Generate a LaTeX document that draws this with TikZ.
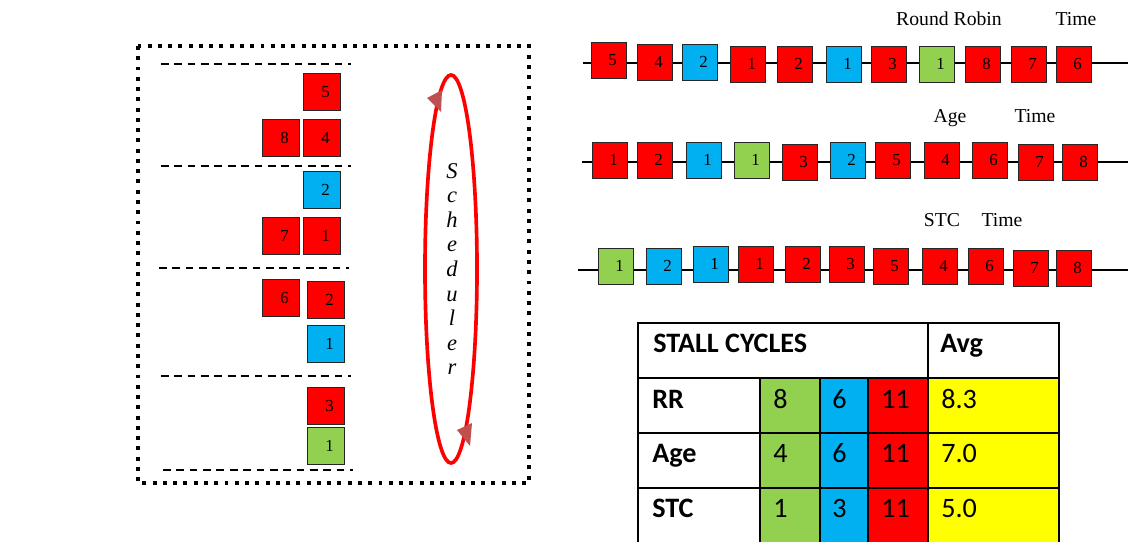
\documentclass[tikz,border=0pt]{standalone}
\usepackage{fontspec}
\setmainfont{Liberation Serif}
\newfontfamily\calibri{Carlito}
\usetikzlibrary{shapes.geometric}

\definecolor{taskred}{HTML}{FF0000}
\definecolor{taskblue}{HTML}{00B0F0}
\definecolor{taskgreen}{HTML}{92D050}
\definecolor{avgyellow}{HTML}{FFFF00}
\definecolor{tipred}{HTML}{C0504D}

\tikzset{
  task/.style={draw=black!85, line width=0.7pt, minimum width=0.86cm, minimum height=0.9cm,
    inner sep=0pt, font=\fontsize{12}{14}\selectfont, execute at begin node={\hspace*{5pt}}},
  qtask/.style={task, minimum width=0.93cm, minimum height=0.93cm},
  slot/.style={line width=1pt, dash pattern=on 5.5pt off 4pt},
  tline/.style={line width=1.1pt},
  tlabel/.style={anchor=base, inner sep=0pt, font=\fontsize{14}{16}\selectfont},
  grid/.style={line width=1.4pt},
  cell/.style={anchor=base west, inner sep=0pt, font=\calibri\fontsize{20}{24}\selectfont},
  cellhead/.style={cell, font=\calibri\bfseries\fontsize{20}{24}\selectfont},
}

\begin{document}
\begin{tikzpicture}[x=0.025cm, y=-0.025cm]
  \useasboundingbox (0,0) rectangle (1128,542);

  % Warp queues
  \draw[line width=2.8pt, dash pattern=on 2.8pt off 4.5pt] (138,46) rectangle (529,483);
  \foreach \y/\xa in {64/161,166/161,268/159,376/161,470/163}
    \draw[slot] (\xa,\y) -- ++(190,0);
  \foreach \x/\y/\n/\c [count=\i] in {322/92/5/taskred, 281/138/8/taskred, 322/138/4/taskred,
      322/190/2/taskblue, 281/236/7/taskred, 322/236/1/taskred, 281/298/6/taskred,
      326/300/2/taskred, 326/344/1/taskblue, 326/406/3/taskred, 326/446/1/taskgreen}
    \node[qtask, fill=\c] (q\i) at (\x,\y) {\n};

  % Scheduler ring
  \node[ellipse, draw=taskred, line width=2.6pt, inner sep=0pt,
    minimum width=1.3cm, minimum height=9.7cm] (sched) at (451,269) {};
  \fill[tipred] (427,98) -- (442,90) -- (441,112) -- cycle;
  \fill[tipred] (457,430) -- (472,423) -- (470,446) -- cycle;
  \foreach \l [count=\i] in {S,c,h,e,d,u,l,e,r}
    \node[anchor=base, inner sep=0pt, font=\fontsize{16}{18}\selectfont\itshape]
      (sch\i) at (452,{178+24.6*(\i-1)}) {\l};

  % Round robin order
  \coordinate (rrL) at (583,63);
  \coordinate (rrR) at (1128,63);
  \draw[tline] (rrL) -- (rrR);
  \foreach \x/\y/\n/\c [count=\i] in {609/60/5/taskred, 655/62/4/taskred, 700/62/2/taskblue,
      748/64/1/taskred, 795/64/2/taskred, 844/64/1/taskblue, 889/64/3/taskred,
      937/64/1/taskgreen, 983/64/8/taskred, 1029/64/7/taskred, 1074/64/6/taskred}
    \node[task, fill=\c] (rr\i) at (\x,\y) {\n};
  \node[tlabel] (rrname) at (949,25) {Round Robin};
  \node[tlabel] (rrtime) at (1076,25) {Time};

  % Age order
  \coordinate (ageL) at (582,162);
  \coordinate (ageR) at (1128,162);
  \draw[tline] (ageL) -- (ageR);
  \foreach \x/\y/\n/\c [count=\i] in {610/160/1/taskred, 655/160/2/taskred, 704/160/1/taskblue,
      752/160/1/taskgreen, 800/162/3/taskred, 848/160/2/taskblue, 893/160/5/taskred,
      942/160/4/taskred, 990/160/6/taskred, 1036/162/7/taskred, 1080/162/8/taskred}
    \node[task, fill=\c] (age\i) at (\x,\y) {\n};
  \node[tlabel] (agename) at (950,122) {Age};
  \node[tlabel] (agetime) at (1035,122) {Time};

  % STC order
  \coordinate (stcL) at (578,270);
  \coordinate (stcR) at (1128,270);
  \draw[tline] (stcL) -- (stcR);
  \foreach \x/\y/\n/\c [count=\i] in {616/266/1/taskgreen, 664/266/2/taskblue, 711/264/1/taskblue,
      756/264/1/taskred, 803/264/2/taskred, 847/264/3/taskred, 891/266/5/taskred,
      940/266/4/taskred, 986/266/6/taskred, 1031/268/7/taskred, 1074/268/8/taskred}
    \node[task, fill=\c] (stc\i) at (\x,\y) {\n};
  \node[tlabel] (stcname) at (942,226) {STC};
  \node[tlabel] (stctime) at (1002,226) {Time};

  % Stall cycle table
  \fill[taskgreen] (760,378) rectangle (820,542);
  \fill[taskblue] (820,378) rectangle (868,542);
  \fill[taskred] (868,378) rectangle (928,542);
  \fill[avgyellow] (928,378) rectangle (1059,542);
  \draw[grid] (638,542) -- (638,323) -- (1059,323) -- (1059,542);
  \foreach \y in {378,433,488}
    \draw[grid] (638,\y) -- (1059,\y);
  \foreach \x in {760,820,868}
    \draw[grid] (\x,378) -- (\x,542);
  \draw[grid] (928,323) -- (928,542);
  \node[cellhead] (head) at (653,352) {STALL CYCLES};
  \node[cellhead] (avghead) at (940,352) {Avg};
  \foreach \name/\a/\b/\c/\avg/\y [count=\i] in {RR/8/6/11/8.3/408, Age/4/6/11/7.0/462,
      STC/1/3/11/5.0/517} {
    \node[cellhead] (lab\i) at (652,\y) {\name};
    \node[cell] (ca\i) at (773,\y) {\a};
    \node[cell] (cb\i) at (832,\y) {\b};
    \node[cell] (cc\i) at (881,\y) {\c};
    \node[cell] (avg\i) at (941,\y) {\avg};
  }
\end{tikzpicture}
\end{document}
